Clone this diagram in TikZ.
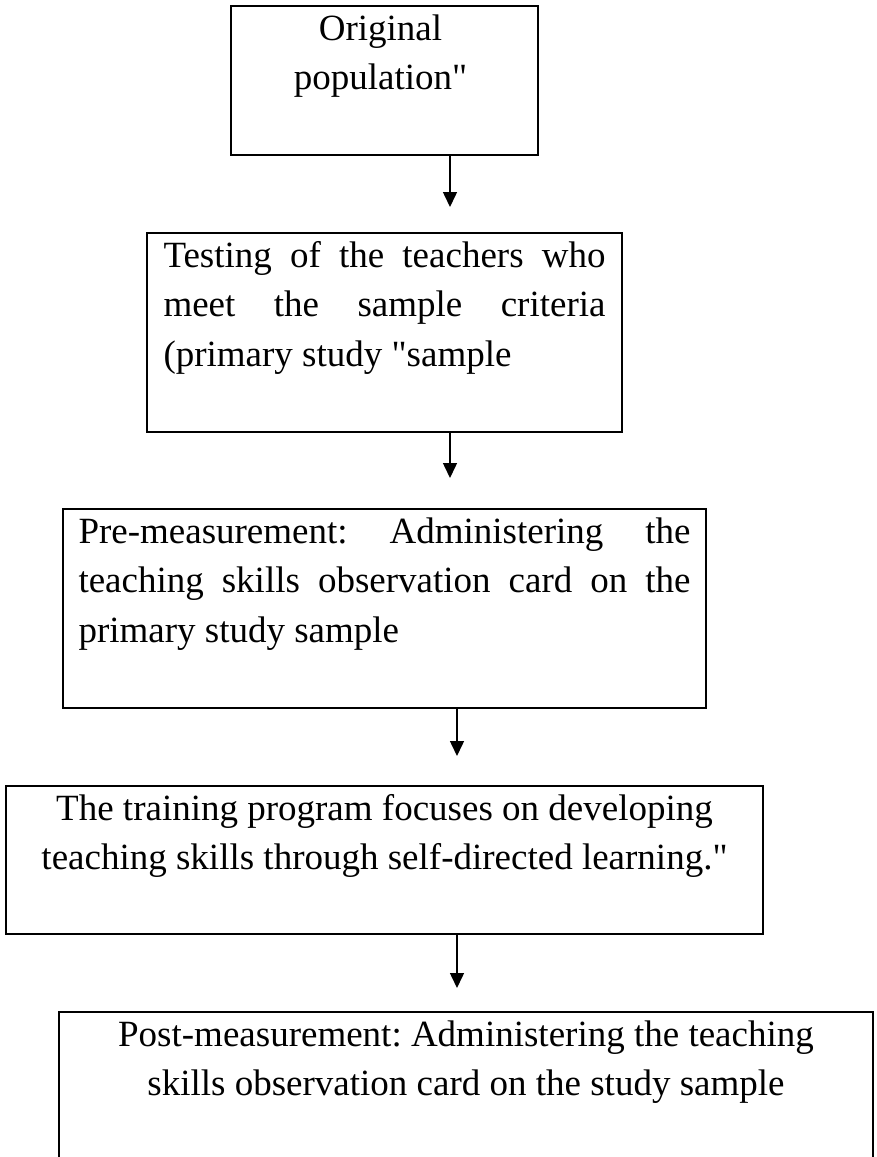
\documentclass[tikz,border=0pt]{standalone}
\usepackage{fontspec}
\setmainfont{Liberation Serif}[Ligatures=TeXOff]
\usetikzlibrary{arrows.meta}
\tikzset{
  boxst/.style={draw=black, line width=1.6pt, rectangle, inner sep=0pt, outer sep=0pt, anchor=north west},
  arr/.style={line width=1.5pt, -{Triangle[width=14pt,length=15pt]}},
}
\newcommand{\boxtext}[3]{\parbox[c][#1][t]{#2}{\frenchspacing\fontsize{37pt}{49.5pt}\selectfont\rule{0pt}{34pt}#3}}
\begin{document}
\begin{tikzpicture}[x=1pt,y=-1pt]
\useasboundingbox (0,0) rectangle (877,1157);
\clip (0,0) rectangle (877,1157);

\node[boxst, minimum width=307pt, minimum height=149pt] (b1) at (231,6)
  {\boxtext{149pt}{280pt}{\centering Original\\population"}\hspace*{8pt}};

\node[boxst, minimum width=475pt, minimum height=199pt] (b2) at (147,233)
  {\boxtext{199pt}{442pt}{\makebox[442pt][s]{Testing of the teachers who}\\\makebox[442pt][s]{meet the sample criteria}\\(primary study "sample}};

\node[boxst, minimum width=643pt, minimum height=199pt] (b3) at (63,509)
  {\boxtext{199pt}{612pt}{\makebox[612pt][s]{Pre-measurement: Administering the}\\\makebox[612pt][s]{teaching skills observation card on the}\\primary study sample}};

\node[boxst, minimum width=757pt, minimum height=148pt] (b4) at (6,786)
  {\boxtext{148pt}{740pt}{\centering The training program focuses on developing\\teaching skills through self-directed learning."}};

\node[boxst, minimum width=814pt, minimum height=200pt] (b5) at (59,1012)
  {\boxtext{200pt}{800pt}{\centering Post-measurement: Administering the teaching\\skills observation card on the study sample}};

\coordinate (t1) at (450,207);
\coordinate (t2) at (450,478);
\coordinate (t3) at (457,756);
\coordinate (t4) at (457,988);

\draw[arr] (b1.south -| t1) -- (t1);
\draw[arr] (b2.south -| t2) -- (t2);
\draw[arr] (b3.south -| t3) -- (t3);
\draw[arr] (b4.south -| t4) -- (t4);
\end{tikzpicture}
\end{document}
